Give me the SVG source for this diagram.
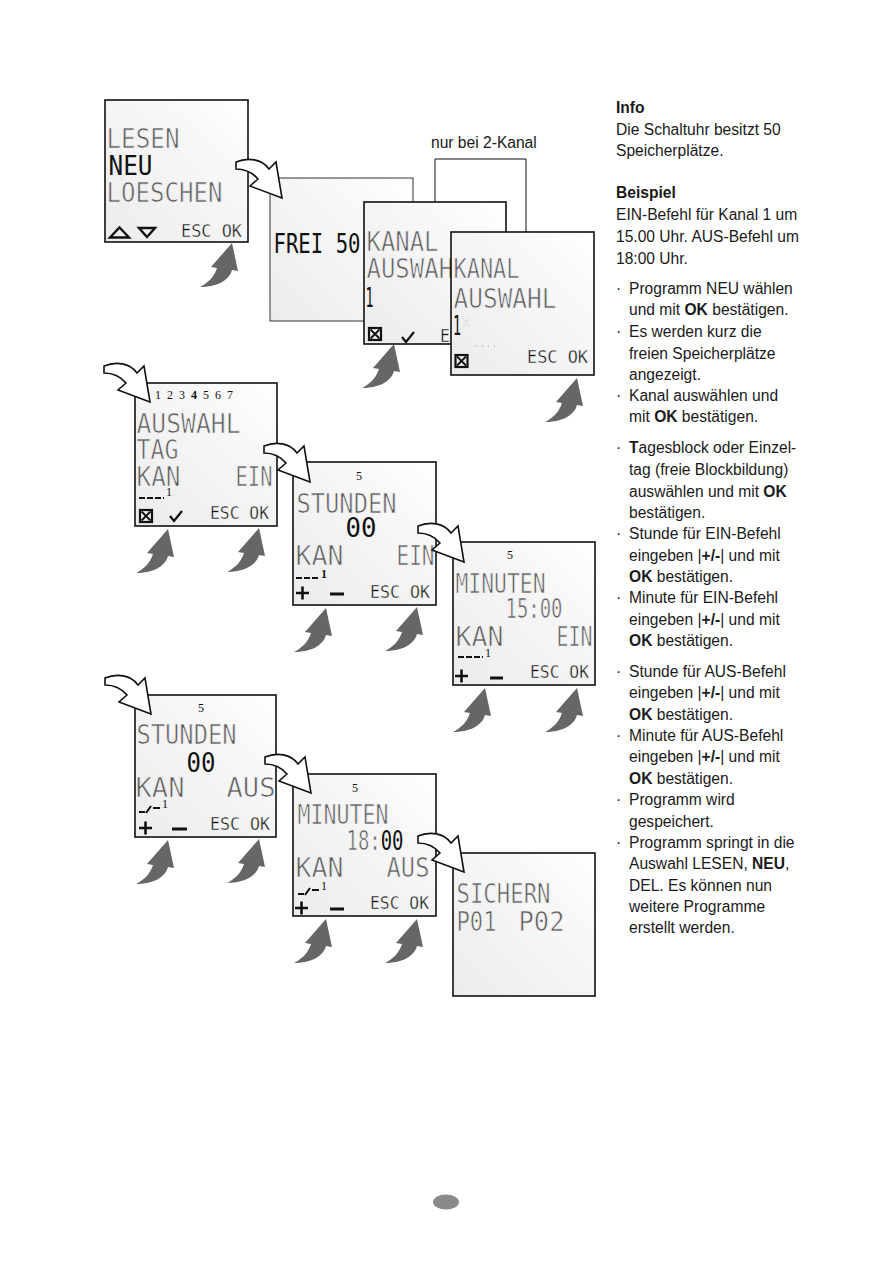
<svg xmlns="http://www.w3.org/2000/svg" xmlns:xlink="http://www.w3.org/1999/xlink" width="893" height="1263" viewBox="0 0 893 1263">
<defs>
<linearGradient id="lcdg" x1="0" y1="1" x2="1" y2="0">
<stop offset="0" stop-color="#ececec"/>
<stop offset="0.7" stop-color="#f8f8f8"/>
<stop offset="1" stop-color="#ffffff"/>
</linearGradient>
<path id="wa" d="M0,0 C12,-5 26,-3 33,7 L40,0 L46,36 L14,24 L22,17 C16,10 8,7 0,7 Z" fill="#fff" stroke="#111" stroke-width="1.6" stroke-linejoin="miter"/>
<path id="ga" d="M0,44 C8,40 14,34 17,25 L11,24 L32,0 L38,28 L32,27 C29,38 16,44 0,44 Z" fill="#666"/>
<g id="xbox"><rect x="0" y="0" width="12" height="12" fill="none" stroke="#111" stroke-width="2.2"/><path d="M1.5,1.5 L10.5,10.5 M10.5,1.5 L1.5,10.5" stroke="#111" stroke-width="1.8"/></g>
<path id="chk" d="M0,5 L4,10 L12,0" fill="none" stroke="#111" stroke-width="2.2"/>
<path id="plus" d="M-6.5,0 H6.5 M0,-6.5 V6.5" stroke="#111" stroke-width="2.6"/>
</defs>
<style>
.scr{fill:url(#lcdg);stroke:#111;stroke-width:1.6}
.lcd{font-family:"DejaVu Sans Mono",monospace;font-size:27px;fill:#5c5c5c;stroke:#f4f4f4;stroke-width:0.7px}
.k{fill:#111;stroke:none}
.sk{font-family:"DejaVu Sans Mono",monospace;font-size:18px;fill:#111;stroke:#f6f6f6;stroke-width:0.4px}
.dig{font-family:"Liberation Serif",serif;font-size:12px;fill:#111}
.t{font-family:"Liberation Sans",Arial,sans-serif;font-size:15.6px;fill:#1a1a1a}
.b{font-weight:bold}
.ln{stroke:#111;fill:none}
</style>
<rect width="893" height="1263" fill="#fff"/>

<g id="bracket">
<path d="M435,202 V159 H526 V232" class="ln" stroke-width="1"/>
<text class="t" x="431" y="148">nur bei 2-Kanal</text>
</g>

<g id="screen1">
<rect class="scr" x="105" y="100" width="143" height="142"/>
<text class="lcd" x="106.5" y="148" textLength="73" lengthAdjust="spacingAndGlyphs">LESEN</text>
<text class="lcd k" x="108.5" y="175" textLength="44" lengthAdjust="spacingAndGlyphs">NEU</text>
<text class="lcd" x="106.5" y="202" textLength="116" lengthAdjust="spacingAndGlyphs">LOESCHEN</text>
<polygon points="110,237.5 119.5,227.5 129,237.5" class="ln" stroke-width="2.4"/>
<polygon points="139,228 155,228 147,237" class="ln" stroke-width="2.4"/>
<text class="sk" x="181" y="237" textLength="61" lengthAdjust="spacingAndGlyphs">ESC OK</text>
</g>

<g id="screen2">
<rect x="270" y="178" width="143" height="143" fill="url(#lcdg)" stroke="#333" stroke-width="1"/>
<text class="lcd k" x="273.5" y="253" textLength="87" lengthAdjust="spacingAndGlyphs">FREI 50</text>
</g>

<g id="screen3">
<rect class="scr" x="364" y="202" width="142" height="142"/>
<text class="lcd" x="366.5" y="251" textLength="72" lengthAdjust="spacingAndGlyphs">KANAL</text>
<text class="lcd" x="366.5" y="278" textLength="101" lengthAdjust="spacingAndGlyphs">AUSWAHL</text>
<text class="lcd k" x="365.5" y="307" textLength="8" lengthAdjust="spacingAndGlyphs">1</text>
<use href="#xbox" x="369" y="328"/>
<use href="#chk" x="402" y="332"/>
<text class="sk" x="440" y="342" textLength="60" lengthAdjust="spacingAndGlyphs">ESC OK</text>
</g>

<g id="screen4">
<rect class="scr" x="451" y="232" width="143" height="143"/>
<text class="lcd" x="453.5" y="278" textLength="66" lengthAdjust="spacingAndGlyphs">KANAL</text>
<text class="lcd" x="453.5" y="308" textLength="103" lengthAdjust="spacingAndGlyphs">AUSWAHL</text>
<text class="lcd k" x="453" y="335" textLength="8" lengthAdjust="spacingAndGlyphs">1</text>
<path d="M463,318 l6,9 M469,318 l-6,9" stroke="#bbb" stroke-width="1" stroke-dasharray="1 1.5"/>
<path d="M476,346 H497" stroke="#999" stroke-width="1" stroke-dasharray="1 5"/>
<use href="#xbox" x="455.5" y="355"/>
<text class="sk" x="527" y="363" textLength="61" lengthAdjust="spacingAndGlyphs">ESC OK</text>
</g>

<g id="screen5">
<rect class="scr" x="135" y="383" width="142" height="143"/>
<text class="dig" y="399"><tspan x="155">1</tspan><tspan x="167">2</tspan><tspan x="179">3</tspan><tspan x="191" font-weight="bold">4</tspan><tspan x="203">5</tspan><tspan x="215">6</tspan><tspan x="227">7</tspan></text>
<text class="lcd" x="136.5" y="433" textLength="104" lengthAdjust="spacingAndGlyphs">AUSWAHL</text>
<text class="lcd" x="136.5" y="459" textLength="42" lengthAdjust="spacingAndGlyphs">TAG</text>
<text class="lcd" x="136.5" y="486" textLength="44" lengthAdjust="spacingAndGlyphs">KAN</text>
<text class="lcd" x="235.5" y="486" textLength="37" lengthAdjust="spacingAndGlyphs">EIN</text>
<path d="M139,498 H164" stroke="#111" stroke-width="2" stroke-dasharray="6 2"/>
<text class="dig" x="166" y="496" font-size="10">1</text>
<use href="#xbox" x="140" y="510"/>
<use href="#chk" x="170" y="511"/>
<text class="sk" x="210" y="519" textLength="59" lengthAdjust="spacingAndGlyphs">ESC OK</text>
</g>

<g id="screen6">
<rect class="scr" x="293" y="462" width="143" height="143"/>
<text class="dig" x="356" y="480">5</text>
<text class="lcd" x="296.5" y="513" textLength="100" lengthAdjust="spacingAndGlyphs">STUNDEN</text>
<text class="lcd k" x="345.5" y="537" textLength="31" lengthAdjust="spacingAndGlyphs">00</text>
<text class="lcd" x="295.5" y="565" textLength="48" lengthAdjust="spacingAndGlyphs">KAN</text>
<text class="lcd" x="396.5" y="565" textLength="38" lengthAdjust="spacingAndGlyphs">EIN</text>
<path d="M296,578 H320" stroke="#111" stroke-width="2" stroke-dasharray="6 2"/>
<text class="dig" x="321" y="578" font-size="11" font-weight="bold">1</text>
<use href="#plus" x="302.5" y="593"/>
<path d="M330,594 H344" stroke="#111" stroke-width="3"/>
<text class="sk" x="370" y="598" textLength="60" lengthAdjust="spacingAndGlyphs">ESC OK</text>
</g>

<g id="screen7">
<rect class="scr" x="453" y="542" width="142" height="143"/>
<text class="dig" x="507" y="559">5</text>
<text class="lcd" x="455.5" y="593" textLength="90" lengthAdjust="spacingAndGlyphs">MINUTEN</text>
<text class="lcd" x="505.5" y="618" textLength="57" lengthAdjust="spacingAndGlyphs">15:00</text>
<text class="lcd" x="455.5" y="646" textLength="48" lengthAdjust="spacingAndGlyphs">KAN</text>
<text class="lcd" x="556.5" y="646" textLength="36" lengthAdjust="spacingAndGlyphs">EIN</text>
<path d="M458,657 H483" stroke="#111" stroke-width="2" stroke-dasharray="6 2"/>
<text class="dig" x="485" y="657" font-size="10">1</text>
<use href="#plus" x="461.5" y="676"/>
<path d="M490,678 H503" stroke="#111" stroke-width="3"/>
<text class="sk" x="530" y="678" textLength="59" lengthAdjust="spacingAndGlyphs">ESC OK</text>
</g>

<g id="screen8">
<rect class="scr" x="135" y="695" width="141" height="142"/>
<text class="dig" x="198" y="712">5</text>
<text class="lcd" x="136.5" y="744" textLength="100" lengthAdjust="spacingAndGlyphs">STUNDEN</text>
<text class="lcd k" x="186.5" y="772" textLength="29" lengthAdjust="spacingAndGlyphs">00</text>
<text class="lcd" x="135.5" y="797" textLength="49" lengthAdjust="spacingAndGlyphs">KAN</text>
<text class="lcd" x="226.5" y="797" textLength="49" lengthAdjust="spacingAndGlyphs">AUS</text>
<path d="M139,812 H145 M146,813 L151,806 M153,808 H160" stroke="#111" stroke-width="2"/>
<text class="dig" x="162" y="808" font-size="10">1</text>
<use href="#plus" x="145.5" y="828"/>
<path d="M172,829 H187" stroke="#111" stroke-width="3"/>
<text class="sk" x="210" y="830" textLength="60" lengthAdjust="spacingAndGlyphs">ESC OK</text>
</g>

<g id="screen9">
<rect class="scr" x="293" y="774" width="143" height="142"/>
<text class="dig" x="352" y="792">5</text>
<text class="lcd" x="297.5" y="824" textLength="91" lengthAdjust="spacingAndGlyphs">MINUTEN</text>
<text class="lcd" x="346.5" y="850" textLength="57" lengthAdjust="spacingAndGlyphs">18:<tspan class="k">00</tspan></text>
<text class="lcd" x="295.5" y="877" textLength="48" lengthAdjust="spacingAndGlyphs">KAN</text>
<text class="lcd" x="386.5" y="877" textLength="43" lengthAdjust="spacingAndGlyphs">AUS</text>
<path d="M298,894 H304 M305,895 L310,888 M312,890 H319" stroke="#111" stroke-width="2"/>
<text class="dig" x="321" y="890" font-size="10">1</text>
<use href="#plus" x="301.5" y="908"/>
<path d="M330,909 H344" stroke="#111" stroke-width="3"/>
<text class="sk" x="370" y="909" textLength="59" lengthAdjust="spacingAndGlyphs">ESC OK</text>
</g>

<g id="screen10">
<rect class="scr" x="453" y="853" width="142" height="143"/>
<text class="lcd" x="456.5" y="903" textLength="94" lengthAdjust="spacingAndGlyphs">SICHERN</text>
<text class="lcd" x="456.5" y="931" textLength="40" lengthAdjust="spacingAndGlyphs">P01</text>
<text class="lcd" x="518.5" y="931" textLength="46" lengthAdjust="spacingAndGlyphs">P02</text>
</g>

<g id="connectors">
<use href="#wa" transform="translate(236,162)"/>
<use href="#wa" transform="translate(104,366)"/>
<use href="#wa" transform="translate(264,446)"/>
<use href="#wa" transform="translate(418,526)"/>
<use href="#wa" transform="translate(105,678)"/>
<use href="#wa" transform="translate(265,757)"/>
<use href="#wa" transform="translate(418,836)"/>
<use href="#ga" transform="translate(200,243)"/>
<use href="#ga" transform="translate(362,344)"/>
<use href="#ga" transform="translate(545,378)"/>
<use href="#ga" transform="translate(136,529)"/>
<use href="#ga" transform="translate(227,528)"/>
<use href="#ga" transform="translate(294,608)"/>
<use href="#ga" transform="translate(385,607)"/>
<use href="#ga" transform="translate(453,688)"/>
<use href="#ga" transform="translate(545,688)"/>
<use href="#ga" transform="translate(136,840)"/>
<use href="#ga" transform="translate(227,839)"/>
<use href="#ga" transform="translate(294,919)"/>
<use href="#ga" transform="translate(385,919)"/>
</g>

<g id="textcolumn">
<text class="t b" x="616" y="113">Info</text>
<text class="t" x="616" y="135">Die Schaltuhr besitzt 50</text>
<text class="t" x="616" y="156">Speicherplätze.</text>
<text class="t b" x="616" y="198">Beispiel</text>
<text class="t" x="616" y="220">EIN-Befehl für Kanal 1 um</text>
<text class="t" x="616" y="242">15.00 Uhr. AUS-Befehl um</text>
<text class="t" x="616" y="264">18:00 Uhr.</text>

<text class="t" x="616" y="294">·</text>
<text class="t" x="629" y="294">Programm NEU wählen</text>
<text class="t" x="629" y="315">und mit <tspan class="b">OK</tspan> bestätigen.</text>
<text class="t" x="616" y="337">·</text>
<text class="t" x="629" y="337">Es werden kurz die</text>
<text class="t" x="629" y="359">freien Speicherplätze</text>
<text class="t" x="629" y="380">angezeigt.</text>
<text class="t" x="616" y="401">·</text>
<text class="t" x="629" y="401">Kanal auswählen und</text>
<text class="t" x="629" y="422">mit <tspan class="b">OK</tspan> bestätigen.</text>

<text class="t" x="616" y="453">·</text>
<text class="t" x="629" y="453"><tspan class="b">T</tspan>agesblock oder Einzel-</text>
<text class="t" x="629" y="475">tag (freie Blockbildung)</text>
<text class="t" x="629" y="497">auswählen und mit <tspan class="b">OK</tspan></text>
<text class="t" x="629" y="518">bestätigen.</text>
<text class="t" x="616" y="539">·</text>
<text class="t" x="629" y="539">Stunde für EIN-Befehl</text>
<text class="t" x="629" y="561">eingeben |<tspan class="b">+/-</tspan>| und mit</text>
<text class="t" x="629" y="582"><tspan class="b">OK</tspan> bestätigen.</text>
<text class="t" x="616" y="603">·</text>
<text class="t" x="629" y="603">Minute für EIN-Befehl</text>
<text class="t" x="629" y="625">eingeben |<tspan class="b">+/-</tspan>| und mit</text>
<text class="t" x="629" y="646"><tspan class="b">OK</tspan> bestätigen.</text>

<text class="t" x="616" y="677">·</text>
<text class="t" x="629" y="677">Stunde für AUS-Befehl</text>
<text class="t" x="629" y="698">eingeben |<tspan class="b">+/-</tspan>| und mit</text>
<text class="t" x="629" y="720"><tspan class="b">OK</tspan> bestätigen.</text>
<text class="t" x="616" y="741">·</text>
<text class="t" x="629" y="741">Minute für AUS-Befehl</text>
<text class="t" x="629" y="762">eingeben |<tspan class="b">+/-</tspan>| und mit</text>
<text class="t" x="629" y="784"><tspan class="b">OK</tspan> bestätigen.</text>
<text class="t" x="616" y="805">·</text>
<text class="t" x="629" y="805">Programm wird</text>
<text class="t" x="629" y="827">gespeichert.</text>
<text class="t" x="616" y="848">·</text>
<text class="t" x="629" y="848">Programm springt in die</text>
<text class="t" x="629" y="869">Auswahl LESEN, <tspan class="b">NEU</tspan>,</text>
<text class="t" x="629" y="891">DEL. Es können nun</text>
<text class="t" x="629" y="912">weitere Programme</text>
<text class="t" x="629" y="933">erstellt werden.</text>
</g>

<g id="pagemark">
<ellipse cx="446" cy="1202" rx="13" ry="7.5" fill="#8a8a8a"/>
</g>
</svg>
